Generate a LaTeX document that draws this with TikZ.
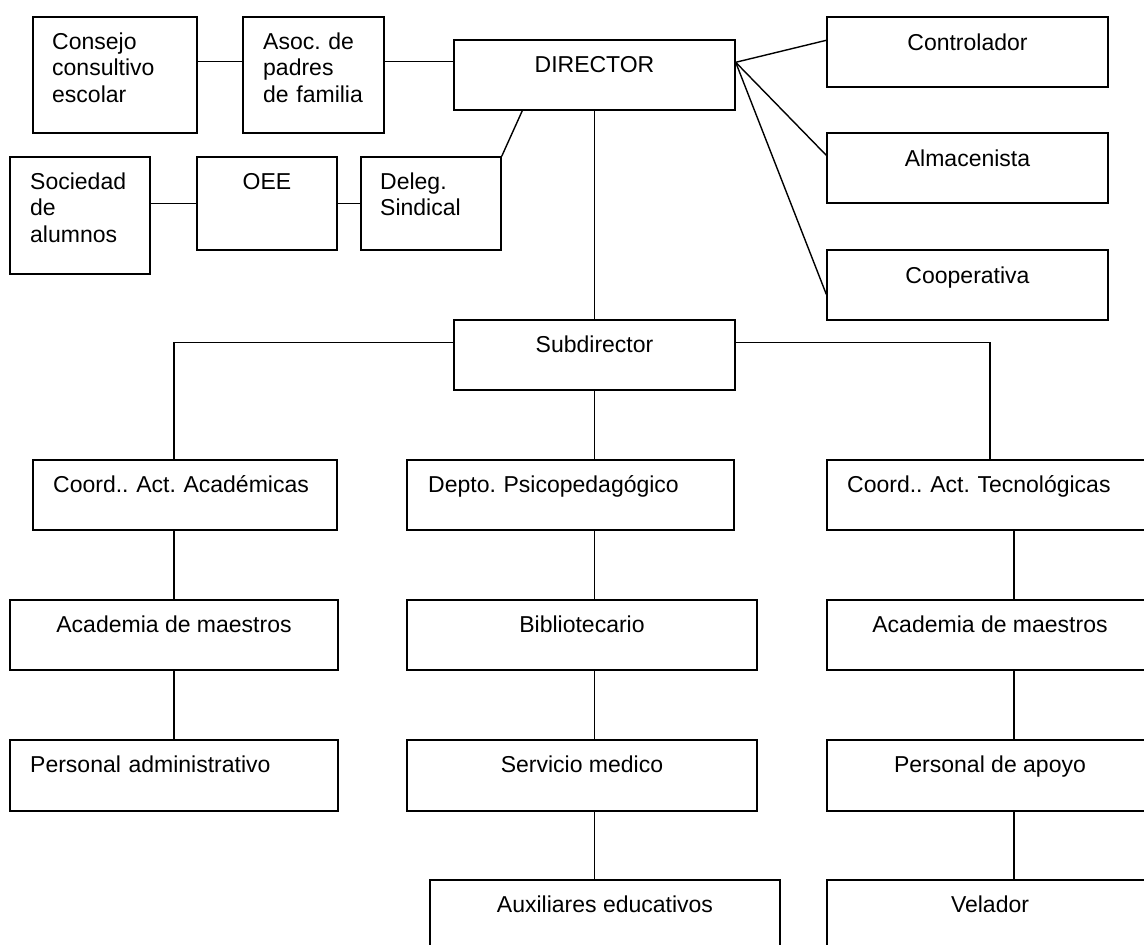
\documentclass[tikz,border=0pt]{standalone}
\usepackage{fontspec}
\setmainfont{Liberation Sans}
\usetikzlibrary{calc}
\frenchspacing
\newcommand{\orgbox}[5]{\node[box, minimum width={#4-#2}, minimum height={#5-#3}] (#1) at ({(#2+#4)/2},{(#3+#5)/2}) {};}
\begin{document}
\begin{tikzpicture}[x=1pt,y=-1pt,
  box/.style={draw, line width=1.4pt, rectangle, inner sep=0pt, fill=white},
  txt/.style={inner sep=0pt, font=\fontsize{23pt}{26.7pt}\selectfont\frenchspacing},
  ltxt/.style={txt, anchor=base west, text width=340pt, align=left},
  ctxt/.style={txt, anchor=base},
  ln/.style={line width=1.4pt}]
\useasboundingbox (0,0) rectangle (1144,945);
\clip (0,0) rectangle (1144,945);
\fill[white] (0,0) rectangle (1144,945);
% boxes
\orgbox{cons}{33}{17}{197}{133}
\orgbox{asoc}{243}{17}{384}{133}
\orgbox{dir}{454}{40}{735}{110}
\orgbox{ctrl}{827}{17}{1108}{87}
\orgbox{alm}{827}{133}{1108}{203}
\orgbox{coop}{827}{250}{1108}{320}
\orgbox{soc}{10}{157}{150}{274}
\orgbox{oee}{197}{157}{337}{250}
\orgbox{del}{361}{157}{501}{250}
\orgbox{sub}{454}{320}{735}{390}
\orgbox{ca}{33}{460}{337}{530}
\orgbox{dp}{407}{460}{734}{530}
\orgbox{ct}{827}{460}{1153}{530}
\orgbox{am1}{10}{600}{338}{670}
\orgbox{bib}{407}{600}{757}{670}
\orgbox{am2}{827}{600}{1153}{670}
\orgbox{pa}{10}{740}{338}{811}
\orgbox{sm}{407}{740}{757}{811}
\orgbox{pap}{827}{740}{1153}{811}
\orgbox{aux}{430}{880}{780}{952}
\orgbox{vel}{827}{880}{1153}{952}
% texts
\node[ltxt] (cons-t) at (52,49) {Consejo\\consultivo\\escolar};
\node[ltxt] (asoc-t) at (263,49) {Asoc. de\\padres\\de familia};
\node[ctxt] (dir-t) at (594.5,72) {DIRECTOR};
\node[ctxt] (ctrl-t) at (967.5,50) {Controlador};
\node[ctxt] (alm-t) at (967.5,166) {Almacenista};
\node[ctxt] (coop-t) at (967.5,283) {Cooperativa};
\node[ltxt] (soc-t) at (30,189) {Sociedad\\de\\alumnos};
\node[ctxt] (oee-t) at (267,189) {OEE};
\node[ltxt] (del-t) at (380,189) {Deleg.\\Sindical};
\node[ctxt] (sub-t) at (594.5,352) {Subdirector};
\node[ltxt] (ca-t) at (53,492) {Coord.. Act. Académicas};
\node[ltxt] (dp-t) at (428,492) {Depto. Psicopedagógico};
\node[ltxt] (ct-t) at (847,492) {Coord.. Act. Tecnológicas};
\node[ctxt] (am1-t) at (174,632) {Academia de maestros};
\node[ctxt] (bib-t) at (582,632) {Bibliotecario};
\node[ctxt] (am2-t) at (990,632) {Academia de maestros};
\node[ltxt] (pa-t) at (30,772) {Personal administrativo};
\node[ctxt] (sm-t) at (582,772) {Servicio medico};
\node[ctxt] (pap-t) at (990,772) {Personal de apoyo};
\node[ctxt] (aux-t) at (605,912) {Auxiliares educativos};
\node[ctxt] (vel-t) at (990,912) {Velador};
% connectors
\draw[ln] ($(cons.north east)+(0,45)$) -- ($(asoc.north west)+(0,45)$);
\draw[ln] ($(asoc.north east)+(0,45)$) -- ($(dir.north west)+(0,22)$);
\draw[ln] (oee.west -| soc.east) -- (oee.west);
\draw[ln] (oee.east) -- (del.west);
\draw[ln] (del.north east) -- ($(dir.south west)+(69,0)$);
\draw[ln] ($(dir.north east)+(0,23)$) -- ($(ctrl.north west)+(0,24)$);
\draw[ln] ($(dir.north east)+(0,23)$) -- ($(alm.north west)+(0,23)$);
\draw[ln] ($(dir.north east)+(0,23)$) -- ($(coop.north west)+(0,45)$);
\draw[ln] (dir.south) -- (sub.north);
\draw[ln] ($(sub.north west)+(0,23)$) -| (ca.north -| am1.north);
\draw[ln] ($(sub.north east)+(0,23)$) -| (ct.north);
\draw[ln] (sub.south) -- (sub.south |- dp.north);
\draw[ln] (ca.south -| am1.north) -- (am1.north);
\draw[ln] (am1.south) -- (pa.north);
\draw[ln] (dp.south -| sub.south) -- (bib.north -| sub.south);
\draw[ln] (bib.south -| sub.south) -- (sm.north -| sub.south);
\draw[ln] (sm.south -| sub.south) -- (aux.north -| sub.south);
\draw[ln] ($(ct.south)+(24,0)$) -- ($(am2.north)+(24,0)$);
\draw[ln] ($(am2.south)+(24,0)$) -- ($(pap.north)+(24,0)$);
\draw[ln] ($(pap.south)+(24,0)$) -- ($(vel.north)+(24,0)$);
\end{tikzpicture}
\end{document}
